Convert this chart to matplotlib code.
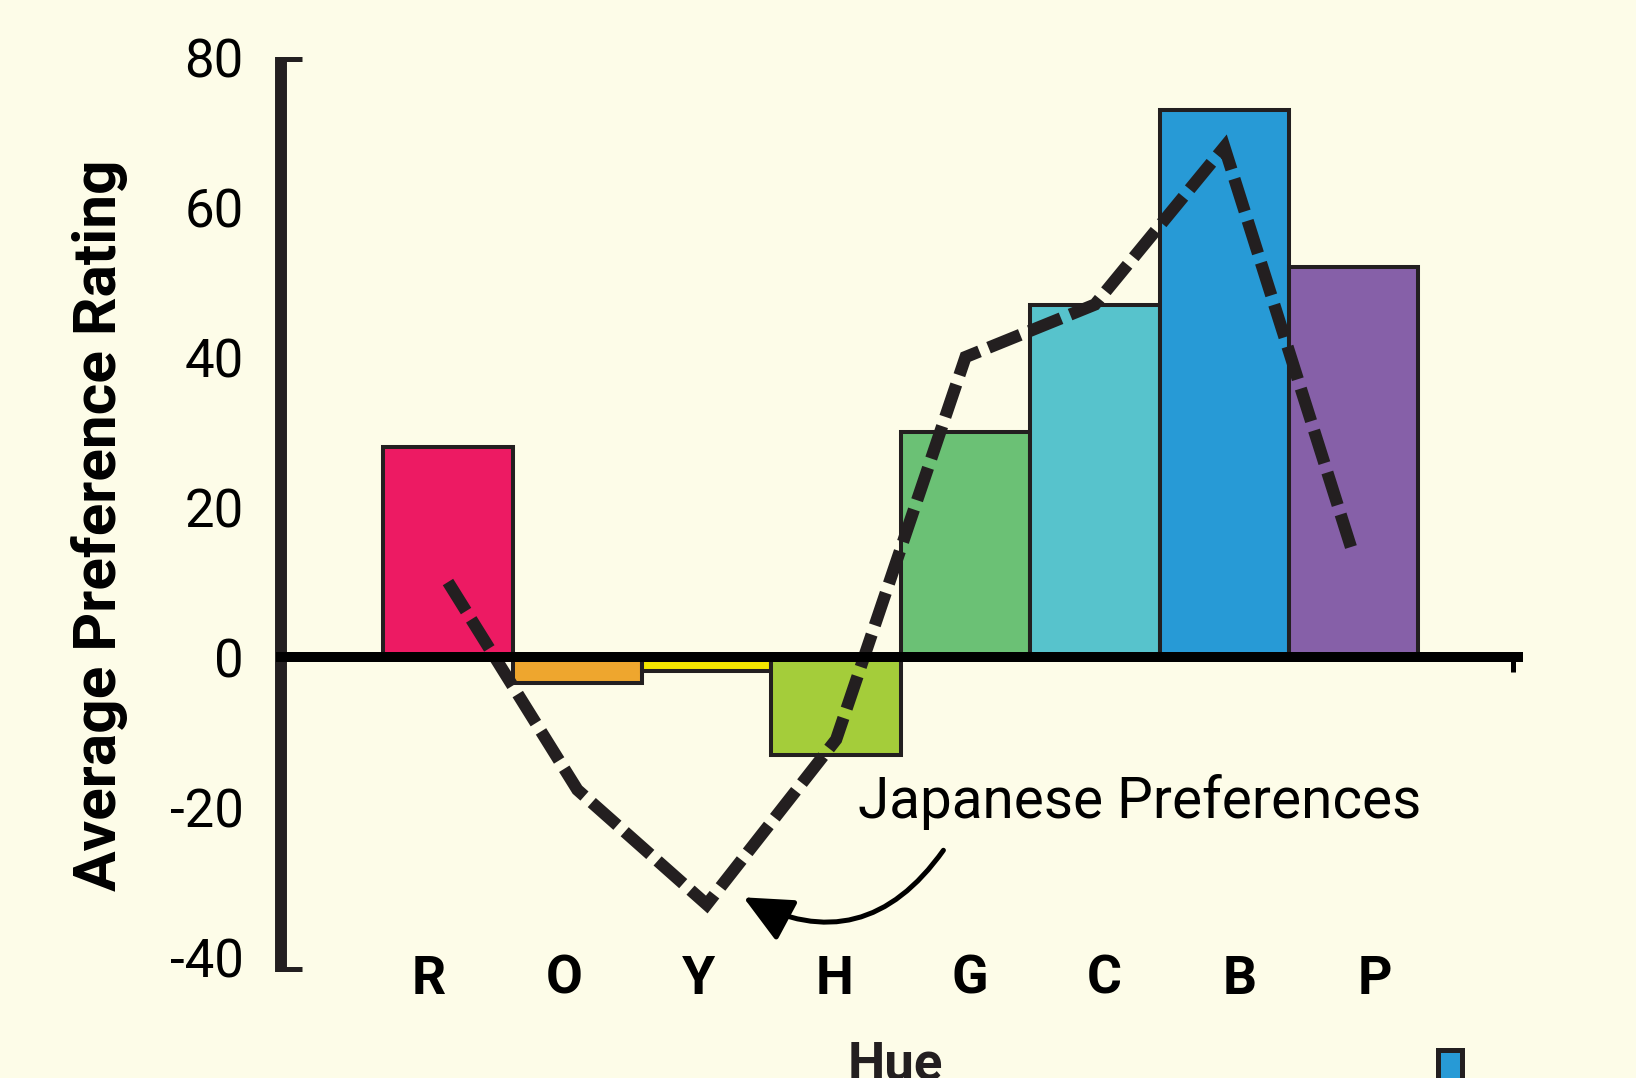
#!/usr/bin/env python3
"""Bar chart of average preference rating per hue, with the
   Japanese preferences drawn as a dashed line over the bars"""
import matplotlib.pyplot as plt
import matplotlib.patches as mpatches
import numpy as np

HUES = ['R', 'O', 'Y', 'H', 'G', 'C', 'B', 'P']
RATINGS = [28, -3.5, -1.8, -13, 30, 47, 73, 52]
JAPANESE = [10, -17.7, -33, -11, 40, 47, 68, 13.5]
BAR_COLORS = ['#ed1a63', '#eea62e', '#f3e600', '#a4cd3a',
              '#6bc175', '#57c3cc', '#279ad6', '#8660a8']
Y_TICKS = [-40, -20, 0, 20, 40, 60, 80]

BG = '#fdfce8'
INK = '#231f20'


def hue_plot():
    """Draws the bars, the dashed line and the labels, saves out.png"""
    plt.rcParams['font.family'] = 'Roboto'
    plt.rcParams['axes.unicode_minus'] = False

    fig = plt.figure(figsize=(16.36, 10.78), dpi=100, facecolor=BG)
    axis = fig.add_axes([0.1718, 0.0983, 0.7561, 0.8488])
    axis.set_facecolor(BG)

    x_pos = np.arange(len(HUES))
    axis.bar(x_pos, RATINGS, width=1.0, color=BAR_COLORS,
             edgecolor=INK, linewidth=2.9, zorder=1)
    axis.plot(x_pos, JAPANESE, color=INK, linewidth=8.8,
              dashes=(2.8, 0.8), dash_capstyle='butt',
              dash_joinstyle='miter', zorder=3)

    axis.set_xlim(-1.29, 8.27)
    axis.set_ylim(-42, 80)

    # only the left axis and the zero line are kept
    axis.spines['top'].set_visible(False)
    axis.spines['right'].set_visible(False)
    axis.spines['left'].set_linewidth(8.6)
    axis.spines['left'].set_color(INK)
    axis.spines['left'].set_capstyle('butt')
    axis.spines['bottom'].set_position(('data', 0))
    axis.spines['bottom'].set_linewidth(7.2)
    axis.spines['bottom'].set_color('black')
    axis.spines['bottom'].set_zorder(4)

    axis.set_yticks(Y_TICKS)
    axis.set_yticklabels([str(v) for v in Y_TICKS], fontsize=38)
    axis.tick_params(axis='y', which='major', length=0, pad=27)
    # end ticks of the left axis (kept off the major positions)
    axis.set_yticks([-41.6, 79.7], minor=True)
    axis.tick_params(axis='y', which='minor', direction='in',
                     length=15, width=3.6, color=INK)

    axis.set_xticks([])
    axis.set_xticks([8.23], minor=True)
    axis.tick_params(axis='x', which='minor', direction='out',
                     length=11, width=3.6, color='black')

    # hue letters sit a little off the bar centres
    label_pos = -0.15 + 1.045 * np.arange(len(HUES))
    for pos, hue in zip(label_pos, HUES):
        axis.text(pos, -0.008, hue, transform=axis.get_xaxis_transform(),
                  ha='center', va='center', fontsize=38.5,
                  fontweight='bold', color='black')

    fig.text(0.061, 0.5125, 'Average Preference Rating', rotation=90,
             ha='center', va='center', fontsize=43.5, fontweight='bold',
             color='black')
    fig.text(0.547, -0.001, 'Hue', ha='center', va='baseline',
             fontsize=38, fontweight='bold', color=INK)
    fig.text(0.5244, 0.2412, 'Japanese Preferences', ha='left',
             va='baseline', fontsize=40.8, color='black')

    # curved arrow from the caption to the dip of the line
    arrow = mpatches.FancyArrowPatch(
        (945, 1078 - 848), (741, 1078 - 896), transform=None,
        connectionstyle='arc3,rad=-0.45',
        arrowstyle=mpatches.ArrowStyle('-|>', head_length=30,
                                       head_width=14),
        mutation_scale=1, linewidth=3.6, color='black')
    fig.add_artist(arrow)

    # small blue key square cut by the bottom edge
    key = mpatches.Rectangle((0.8787, -0.02), 0.0152, 0.0464,
                             transform=fig.transFigure, facecolor='#279ad6',
                             edgecolor=INK, linewidth=3.6)
    fig.add_artist(key)

    fig.savefig('out.png', dpi=100, facecolor=BG)
    plt.close()


def main():
    """Writes the chart"""
    hue_plot()


if __name__ == "__main__":
    main()
